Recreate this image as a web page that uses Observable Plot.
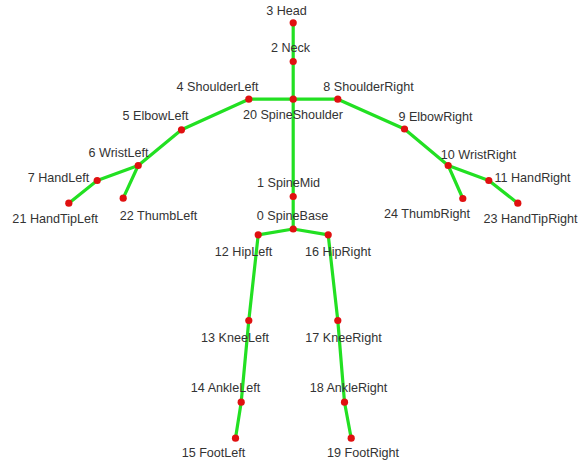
<!DOCTYPE html>
<html>
<head>
<meta charset="utf-8">
<script src="https://cdn.jsdelivr.net/npm/d3@7"></script>
<script src="https://cdn.jsdelivr.net/npm/@observablehq/plot@0.6"></script>
<style>
  html, body { margin: 0; padding: 0; background: #fff; }
  #chart svg { display: block; }
</style>
</head>
<body>
<div id="chart"></div>
<script>
// Joint ids, names and positions (image coordinate units, y downward)
const jointIds   = [0,1,2,3,4,5,6,7,8,9,10,11,12,13,14,15,16,17,18,19,20,21,22,23,24];
const jointNames = ["SpineBase","SpineMid","Neck","Head","ShoulderLeft","ElbowLeft","WristLeft","HandLeft",
  "ShoulderRight","ElbowRight","WristRight","HandRight","HipLeft","KneeLeft","AnkleLeft","FootLeft",
  "HipRight","KneeRight","AnkleRight","FootRight","SpineShoulder","HandTipLeft","ThumbLeft","HandTipRight","ThumbRight"];
const jointX = [292.7,292.7,292.7,292.7,248.3,181,137.7,96.7,337.3,404,447.7,488.3,257.7,248.3,240.7,235,
  327.7,337.3,344,350.7,292.7,68.3,122.7,517.3,462.3];
const jointY = [228.5,196,61,22.3,98.7,129.3,165,180,98.7,128.5,165,180,234.3,320,401.7,437.7,
  234.3,320,401.7,437.7,98.7,202.7,197.7,202.7,198];
// Label anchor positions (text centres)
const labelX = [292,288,290,286,217,155,118,58,368,435,478,532,243,234.5,225,213,337.5,343,348,362.5,292.5,54.7,158,530,426.5];
const labelY = [215,182,47,10,86,115,152,177,86,116,154,177,251,337,387,452,251,337,387,452,114.5,218.7,215,218,213.5];
// Bones as pairs of joint ids
const boneFrom = [3,2,20,20,20,1,4,5,6,7,6,8,9,10,11,10,0,0,12,13,14,16,17,18];
const boneTo   = [2,20,4,8,1,0,5,6,7,21,22,9,10,11,23,24,12,16,13,14,15,17,18,19];

const joints = jointIds.map((id, i) => ({id, name: jointNames[i], x: jointX[i], y: jointY[i], lx: labelX[i], ly: labelY[i]}));
const byId = new Map(joints.map(j => [j.id, j]));
const bones = boneFrom.map((a, i) => ({x1: byId.get(a).x, y1: byId.get(a).y, x2: byId.get(boneTo[i]).x, y2: byId.get(boneTo[i]).y}));

const chart = Plot.plot({
  width: 578,
  height: 467,
  margin: 0,
  x: {domain: [0, 578], range: [0, 578], axis: null},
  y: {domain: [0, 467], range: [0, 467], axis: null},
  style: {background: "#fff"},
  marks: [
    Plot.link(bones, {x1: "x1", y1: "y1", x2: "x2", y2: "y2", stroke: "#22e022", strokeWidth: 3.2, strokeLinecap: "round"}),
    Plot.dot(joints, {x: "x", y: "y", r: 3.6, fill: "#e01010", stroke: "none"}),
    Plot.text(joints, {x: "lx", y: "ly", text: d => `${d.id} ${d.name}`, fill: "#333",
      fontSize: 12.6, fontFamily: "Liberation Sans, Arial, sans-serif", textAnchor: "middle", lineAnchor: "middle"})
  ]
});
document.getElementById("chart").appendChild(chart);
</script>
</body>
</html>
